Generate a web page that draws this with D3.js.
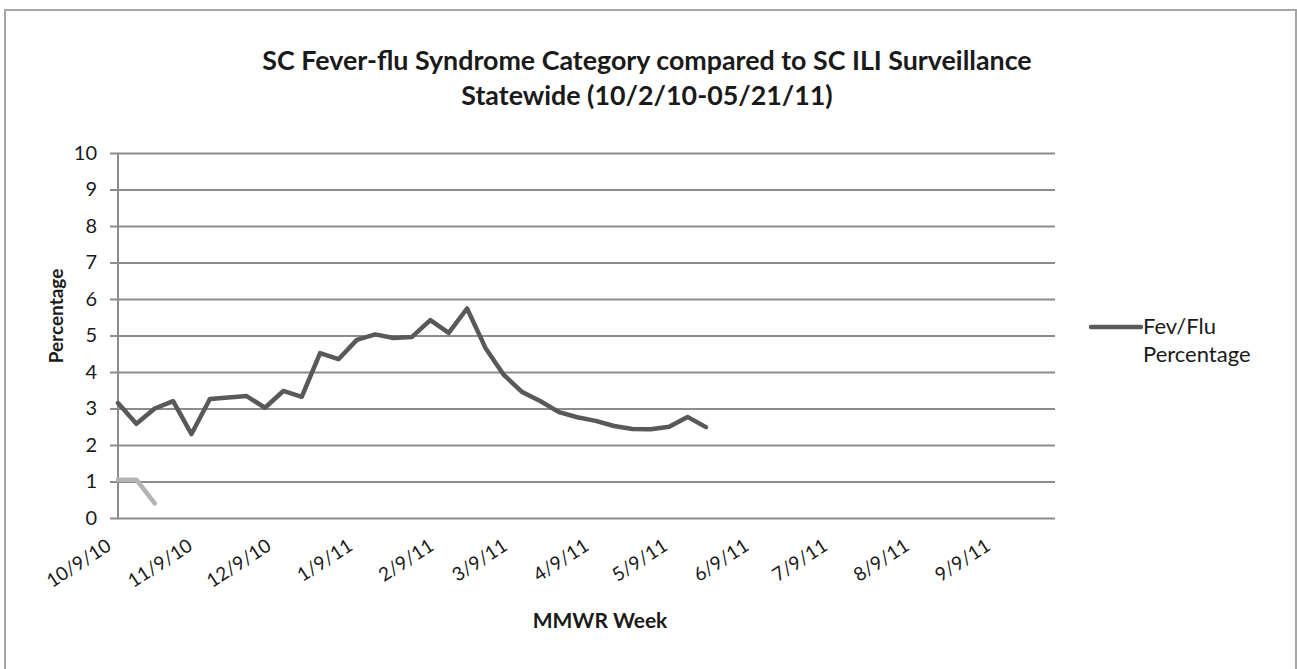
<!DOCTYPE html>
<html>
<head>
<meta charset="utf-8">
<script src="https://cdn.jsdelivr.net/npm/d3@7"></script>
<style>
  body { margin: 0; background: #fff; }
  svg text { font-family: Lato, "Open Sans", sans-serif; fill: #1a1a1a; }
</style>
</head>
<body>
<svg id="chart" width="1297" height="669"></svg>
<script>
// weekly MMWR week ending dates
var weeks = ["10/9/10", "10/16/10", "10/23/10", "10/30/10", "11/6/10", "11/13/10", "11/20/10", "11/27/10",
    "12/4/10", "12/11/10", "12/18/10", "12/25/10", "1/1/11", "1/8/11", "1/15/11", "1/22/11", "1/29/11",
    "2/5/11", "2/12/11", "2/19/11", "2/26/11", "3/5/11", "3/12/11", "3/19/11", "3/26/11",
    "4/2/11", "4/9/11", "4/16/11", "4/23/11", "4/30/11", "5/7/11", "5/14/11", "5/21/11"];

// Fev/Flu percentage
var fevFlu = [3.15, 2.58, 3.0, 3.2, 2.3, 3.26, 3.3, 3.34, 3.02, 3.48, 3.32, 4.52, 4.35, 4.88, 5.03, 4.93,
    4.96, 5.42, 5.07, 5.74, 4.66, 3.92, 3.45, 3.2, 2.9, 2.76, 2.66, 2.52, 2.44, 2.43, 2.5, 2.77, 2.49];

// ILI surveillance (only first weeks reported)
var ili = [1.05, 1.05, 0.4];

var xTickLabels = ["10/9/10", "11/9/10", "12/9/10", "1/9/11", "2/9/11", "3/9/11", "4/9/11",
    "5/9/11", "6/9/11", "7/9/11", "8/9/11", "9/9/11"];
var xDomain = ["10/9/10", "10/1/11"];
var yTicks = [0, 1, 2, 3, 4, 5, 6, 7, 8, 9, 10];

var parseDate = d3.timeParse("%m/%d/%y");
function fmtDate(d) {
    return (d.getMonth() + 1) + "/" + d.getDate() + "/" + String(d.getFullYear()).slice(2);
}

var plotLeft = 118, plotRight = 1055, plotTop = 153, plotBottom = 518;

var svg = d3.select("#chart");

// outer chart border
svg.append("rect")
    .attr("x", 5).attr("y", 10)
    .attr("width", 1291).attr("height", 670)
    .attr("fill", "#fff")
    .attr("stroke", "#a6a6a6")
    .attr("stroke-width", 2);

var x = d3.scaleTime().domain(xDomain.map(parseDate)).range([plotLeft, plotRight]);
var y = d3.scaleLinear().domain([0, 10]).range([plotBottom, plotTop]);

// gridlines + y ticks
var yAxis = d3.axisLeft(y).tickValues(yTicks).tickSize(-(plotRight - plotLeft) - 8);
var gy = svg.append("g")
    .attr("transform", "translate(" + (plotLeft - 8) + ",0)")
    .call(yAxis);
gy.select(".domain").remove();
gy.selectAll(".tick line")
    .attr("stroke", "#8c8c8c")
    .attr("stroke-width", 2);
gy.selectAll(".tick text")
    .attr("x", -13)
    .style("font-size", "20px");

// y axis line
svg.append("line")
    .attr("x1", plotLeft).attr("x2", plotLeft)
    .attr("y1", plotTop).attr("y2", plotBottom)
    .attr("stroke", "#8c8c8c")
    .attr("stroke-width", 2);

// x tick labels (rotated)
var xAxis = d3.axisBottom(x).tickValues(xTickLabels.map(parseDate)).tickFormat(fmtDate).tickSize(0);
var gx = svg.append("g")
    .attr("transform", "translate(0," + plotBottom + ")")
    .call(xAxis);
gx.select(".domain").remove();
gx.selectAll(".tick text")
    .style("font-size", "19px")
    .attr("text-anchor", "end")
    .attr("dy", null)
    .attr("y", 0)
    .attr("transform", "translate(-6,31) rotate(-33)");

// series lines
var line = d3.line()
    .x(function(d, i) { return x(parseDate(weeks[i])); })
    .y(function(d) { return y(d); });

svg.append("path")
    .datum(ili)
    .attr("d", line)
    .attr("fill", "none")
    .attr("stroke", "#b3b3b3")
    .attr("stroke-width", 4.5)
    .attr("stroke-linejoin", "round")
    .attr("stroke-linecap", "round");

svg.append("path")
    .datum(fevFlu)
    .attr("d", line)
    .attr("fill", "none")
    .attr("stroke", "#595959")
    .attr("stroke-width", 4.5)
    .attr("stroke-linejoin", "round")
    .attr("stroke-linecap", "round");

// title
var title = svg.append("text")
    .attr("text-anchor", "middle")
    .style("font-size", "26.8px")
    .style("font-weight", "bold");
title.append("tspan").attr("x", 647).attr("y", 70).text("SC Fever-flu Syndrome Category compared to SC ILI Surveillance");
title.append("tspan").attr("x", 647).attr("y", 105).text("Statewide (10/2/10-05/21/11)");

// axis titles
svg.append("text")
    .attr("text-anchor", "middle")
    .attr("transform", "translate(63,316) rotate(-90)")
    .style("font-size", "19px")
    .style("font-weight", "bold")
    .text("Percentage");

svg.append("text")
    .attr("x", 600).attr("y", 628)
    .attr("text-anchor", "middle")
    .style("font-size", "21px")
    .style("font-weight", "bold")
    .text("MMWR Week");

// legend
svg.append("line")
    .attr("x1", 1091).attr("x2", 1141)
    .attr("y1", 327).attr("y2", 327)
    .attr("stroke", "#595959")
    .attr("stroke-width", 4.5)
    .attr("stroke-linecap", "round");
var leg = svg.append("text").style("font-size", "22px");
leg.append("tspan").attr("x", 1143).attr("y", 334).text("Fev/Flu");
leg.append("tspan").attr("x", 1143).attr("y", 362).text("Percentage");
</script>
</body>
</html>
